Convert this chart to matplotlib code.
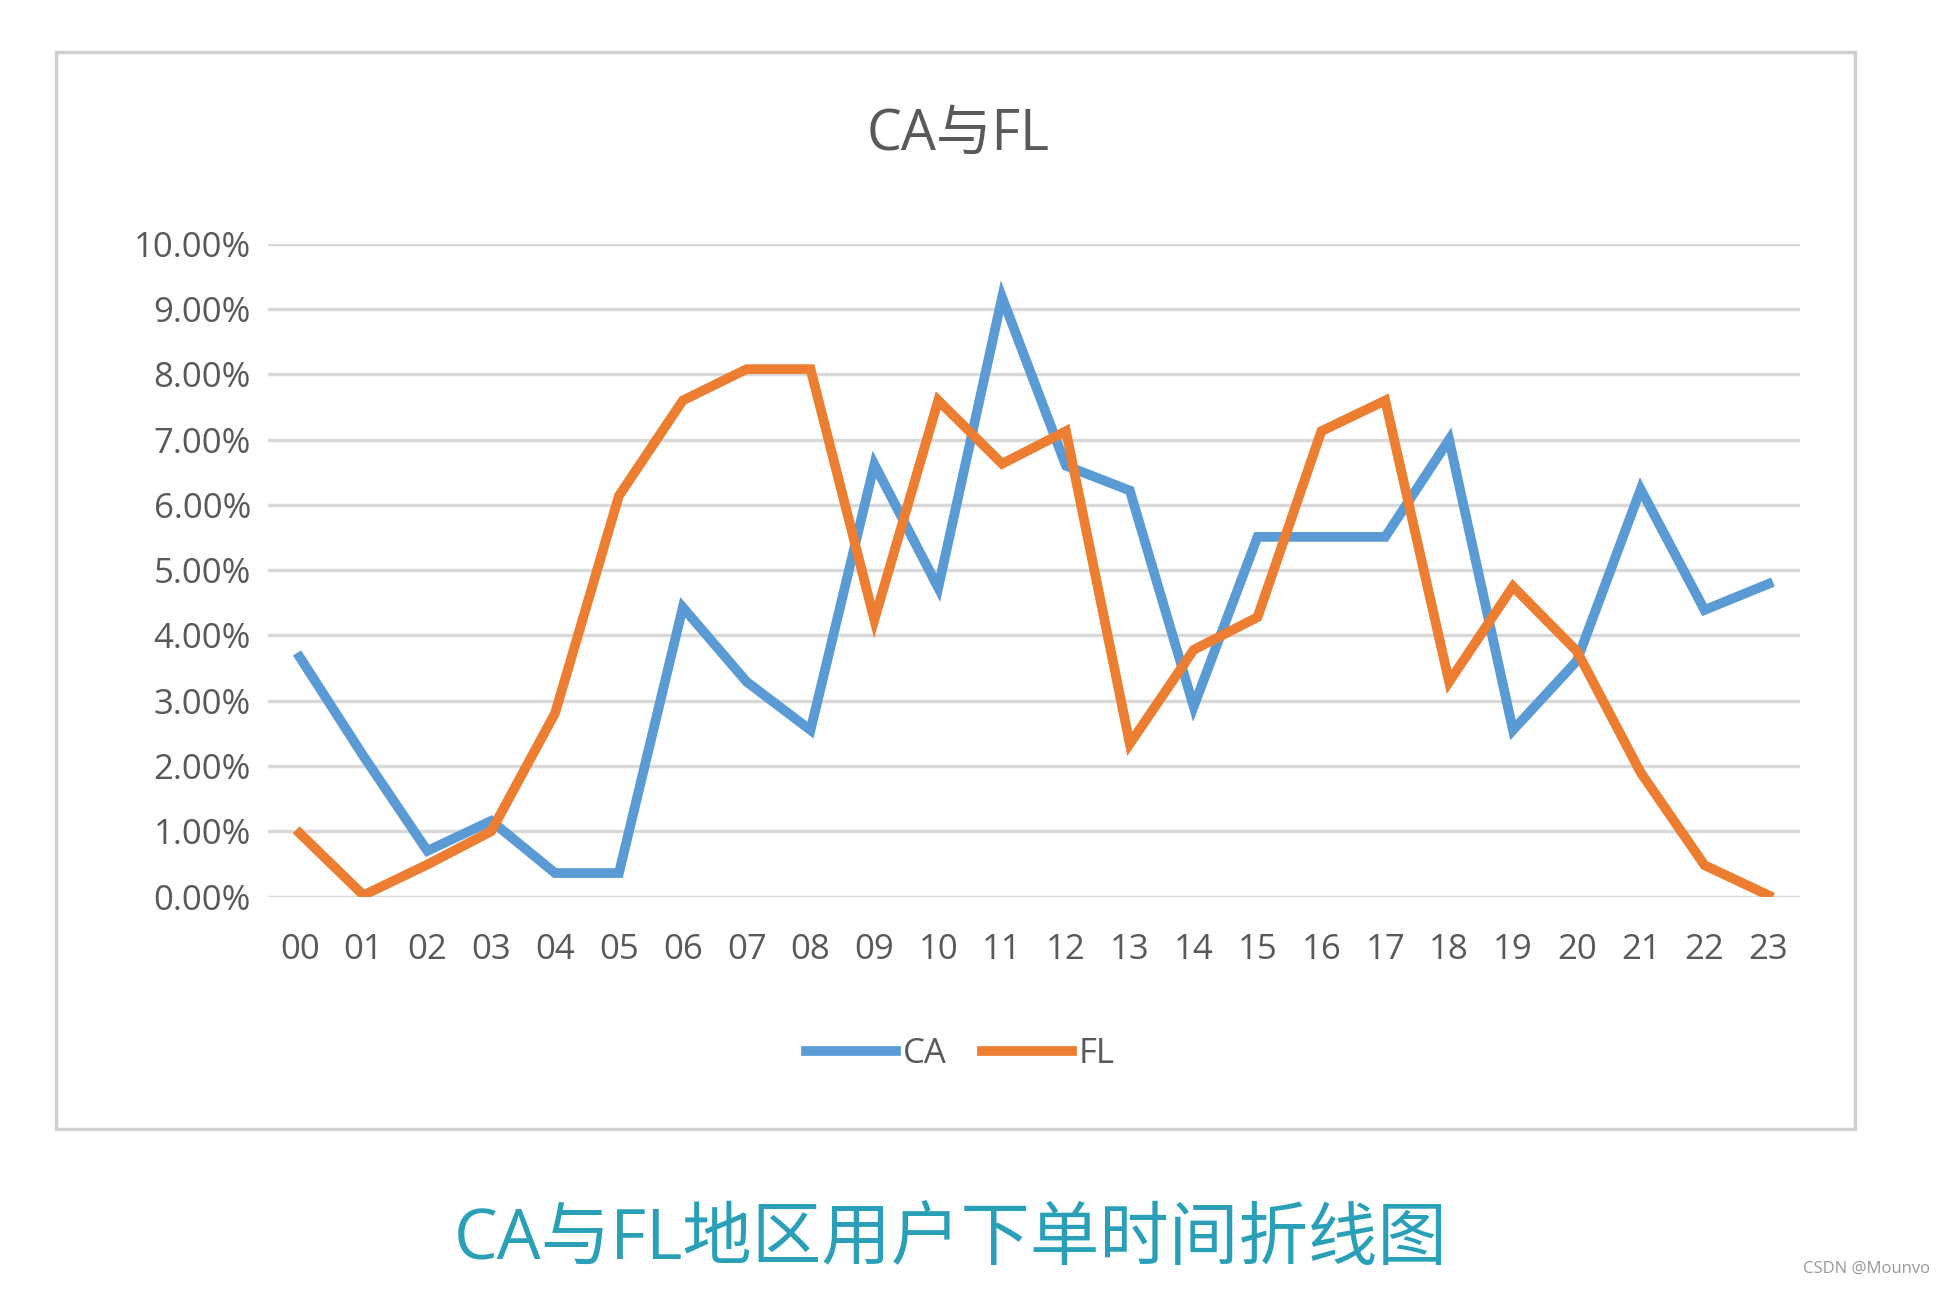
import matplotlib.pyplot as plt
from matplotlib.patches import Rectangle
from matplotlib.ticker import FuncFormatter

plt.rcParams['font.family'] = ['Open Sans', 'Noto Sans CJK SC', 'DejaVu Sans']

hours = ['%02d' % h for h in range(24)]
ca = [3.67, 2.15, 0.70, 1.16, 0.36, 0.36, 4.43, 3.29, 2.55, 6.62, 4.73, 9.18,
      6.60, 6.22, 2.91, 5.51, 5.51, 5.51, 7.00, 2.55, 3.61, 6.24, 4.39, 4.79]
fl = [0.97, 0.02, 0.49, 1.00, 2.81, 6.14, 7.60, 8.08, 8.08, 4.24, 7.60, 6.63,
      7.13, 2.34, 3.78, 4.28, 7.13, 7.60, 3.29, 4.75, 3.76, 1.90, 0.48, 0.02]

fig = plt.figure(figsize=(19.4, 12.9), dpi=100)
fig.patches.append(Rectangle((0.029, 0.125), 0.927, 0.835, transform=fig.transFigure,
                             fill=False, edgecolor='#d0d0d0', linewidth=2.5))

ax = fig.add_axes([0.138, 0.305, 0.79, 0.506])
x = range(len(hours))
ax.plot(x, ca, color='#5b9bd5', lw=7, label='CA', solid_joinstyle='miter')
ax.plot(x, fl, color='#ed7d31', lw=7, label='FL', solid_joinstyle='miter')
ax.set_xlim(-0.5, 23.5)
ax.set_ylim(0, 10)
ax.set_yticks(range(11))
ax.yaxis.set_major_formatter(FuncFormatter(lambda v, p: '%.2f%%' % v))
ax.set_xticks(list(x))
ax.set_xticklabels(hours)
ax.grid(axis='y', color='#d9d9d9', lw=2.5)
ax.set_axisbelow(True)
for s in ax.spines.values():
    s.set_visible(False)
ax.tick_params(length=0, labelsize=25, colors='#595959', pad=12)
ax.tick_params(axis='x', pad=26)

fig.text(0.494, 0.895, 'CA与FL', ha='center', va='center', fontsize=40, color='#595959')
fig.legend(loc='center', bbox_to_anchor=(0.495, 0.183), ncol=2, frameon=False,
           fontsize=25, handlelength=2.6, columnspacing=1.0, handletextpad=0.2,
           labelcolor='#595959')
fig.text(0.49, 0.038, 'CA与FL地区用户下单时间折线图', ha='center', va='center',
         fontsize=50, color='#2aa0b8')
fig.text(0.995, 0.01, 'CSDN @Mounvo', ha='right', va='bottom', fontsize=12, color='#999999')

fig.savefig('out.png')
